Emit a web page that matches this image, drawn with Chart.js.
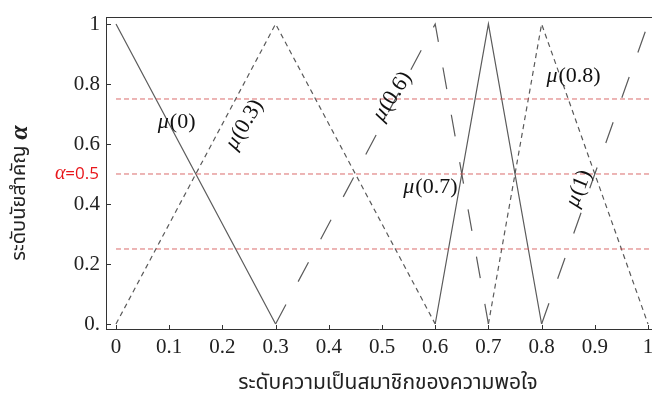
<!DOCTYPE html>
<html>
<head>
<meta charset="utf-8">
<script src="https://cdn.jsdelivr.net/npm/chart.js@4.4.1/dist/chart.umd.min.js"></script>
<style>
  html, body { margin: 0; padding: 0; background: #fff; }
</style>
</head>
<body>
<canvas id="myChart" width="652" height="399"></canvas>
<script>
// membership functions (x = satisfaction level, y = membership)
var mu0X  = [0, 0.3];            var mu0Y  = [1, 0];
var mu03X = [0, 0.3, 0.6];       var mu03Y = [0, 1, 0];
var mu06X = [0.3, 0.6, 0.7];     var mu06Y = [0, 1, 0];
var mu07X = [0.6, 0.7, 0.8];     var mu07Y = [0, 1, 0];
var mu08X = [0.7, 0.8, 1];       var mu08Y = [0, 1, 0];
var mu1X  = [0.8, 1];            var mu1Y  = [0, 1];

var alphaLevels = [0.25, 0.5, 0.75];

var xTicks = [0, 0.1, 0.2, 0.3, 0.4, 0.5, 0.6, 0.7, 0.8, 0.9, 1];
var xTickLabels = ['0', '0.1', '0.2', '0.3', '0.4', '0.5', '0.6', '0.7', '0.8', '0.9', '1'];
var yTicks = [0, 0.2, 0.4, 0.6, 0.8, 1];
var yTickLabels = ['0.', '0.2', '0.4', '0.6', '0.8', '1'];

var curveNames = ['(0)', '(0.3)', '(0.6)', '(0.7)', '(0.8)', '(1)'];
var curveLabelX = [0.113, 0.241, 0.519, 0.590, 0.859, 0.870];
var curveLabelY = [0.673, 0.663, 0.757, 0.457, 0.827, 0.450];
var curveLabelRot = [0, -59, -57, 0, 0, -68];

var xTitle = 'ระดับความเป็นสมาชิกของความพอใจ';
var yTitle = 'ระดับนัยสำคัญ';

var thaiFont = '"Noto Sans Thai", "Noto Sans Thai UI", "Loma", "Garuda", "Tlwg Typo", "Noto Sans", sans-serif';
var serif = "'Liberation Serif', 'Times New Roman', serif";

function pts(xs, ys) {
    return xs.map(function(x, i) { return {x: x, y: ys[i]}; });
}

var lineGray = '#5a5a5a';
var SHORT = [5, 4];
var LONG = [22, 26];

var datasets = [
    {label: 'μ(0)',   data: pts(mu0X, mu0Y),   borderDash: []},
    {label: 'μ(0.3)', data: pts(mu03X, mu03Y), borderDash: SHORT},
    {label: 'μ(0.6)', data: pts(mu06X, mu06Y), borderDash: LONG},
    {label: 'μ(0.7)', data: pts(mu07X, mu07Y), borderDash: []},
    {label: 'μ(0.8)', data: pts(mu08X, mu08Y), borderDash: SHORT},
    {label: 'μ(1)',   data: pts(mu1X, mu1Y),   borderDash: LONG}
].map(function(d) {
    d.borderColor = lineGray;
    d.borderWidth = 1.2;
    d.pointRadius = 0;
    d.tension = 0;
    d.fill = false;
    return d;
});

alphaLevels.forEach(function(a) {
    datasets.unshift({
        label: 'alpha ' + a,
        data: [{x: 0, y: a}, {x: 1.05, y: a}],
        borderColor: 'rgba(210, 80, 80, 0.85)',
        borderWidth: 1,
        borderDash: [5, 3],
        pointRadius: 0,
        fill: false
    });
});

// frame, inward ticks, labels, titles
var decorations = {
    id: 'decorations',
    afterDatasetsDraw: function(chart) {
        var c = chart.ctx, a = chart.chartArea;
        var xs = chart.scales.x, ys = chart.scales.y;
        c.save();
        c.strokeStyle = '#333';
        c.lineWidth = 1;
        c.beginPath();
        c.moveTo(a.left, a.top + 0.5);
        c.lineTo(a.right, a.top + 0.5);
        xTicks.forEach(function(v) {
            var px = Math.round(xs.getPixelForValue(v)) + 0.5;
            c.moveTo(px, a.bottom);
            c.lineTo(px, a.bottom - 4);
        });
        yTicks.forEach(function(v) {
            var py = Math.round(ys.getPixelForValue(v)) + 0.5;
            c.moveTo(a.left, py);
            c.lineTo(a.left + 5, py);
        });
        c.stroke();

        // curve labels: italic mu + regular argument
        c.fillStyle = '#111';
        c.textBaseline = 'middle';
        curveNames.forEach(function(name, i) {
            var px = xs.getPixelForValue(curveLabelX[i]);
            var py = ys.getPixelForValue(curveLabelY[i]);
            c.save();
            c.translate(px, py);
            c.rotate(curveLabelRot[i] * Math.PI / 180);
            c.font = 'italic 22px ' + serif;
            var w1 = c.measureText('μ').width;
            c.font = '22px ' + serif;
            var w2 = c.measureText(name).width;
            var x0 = -(w1 + w2) / 2;
            c.textAlign = 'left';
            c.font = 'italic 22px ' + serif;
            c.fillText('μ', x0, 0);
            c.font = '22px ' + serif;
            c.fillText(name, x0 + w1 + 1, 0);
            c.restore();
        });

        // alpha = 0.5 marker on the y axis
        var pyA = ys.getPixelForValue(0.5);
        c.fillStyle = '#e8161b';
        c.textAlign = 'right';
        c.font = '17px "Open Sans", "Liberation Sans", sans-serif';
        var wNum = c.measureText('=0.5').width;
        c.fillText('=0.5', a.left - 7, pyA);
        c.font = 'italic 20px ' + serif;
        c.fillText('α', a.left - 7 - wNum, pyA);

        // x title
        c.fillStyle = '#222';
        c.textAlign = 'center';
        c.font = '21px ' + thaiFont;
        c.fillText(xTitle, 388, 385);

        // y title (rotated)
        c.save();
        c.translate(21, 193);
        c.rotate(-Math.PI / 2);
        c.font = '20px ' + thaiFont;
        var wt = c.measureText(yTitle).width;
        c.font = 'bold italic 26px ' + serif;
        var wa = c.measureText('α').width;
        var total = wt + 6 + wa;
        c.textAlign = 'left';
        c.font = '20px ' + thaiFont;
        c.fillText(yTitle, -total / 2, 0);
        c.font = 'bold italic 26px ' + serif;
        c.fillText('α', -total / 2 + wt + 6, -1);
        c.restore();

        c.restore();
    }
};

Chart.defaults.font.family = serif;

var ctx = document.getElementById('myChart').getContext('2d');
var myChart = new Chart(ctx, {
    type: 'line',
    data: { datasets: datasets },
    options: {
        responsive: false,
        animation: false,
        layout: { padding: { top: 17, right: 0, left: 0, bottom: 0 } },
        plugins: { legend: { display: false }, tooltip: { enabled: false } },
        scales: {
            x: {
                type: 'linear',
                min: -0.0188,
                max: 1.0075,
                afterBuildTicks: function(scale) {
                    scale.ticks = xTicks.map(function(v) { return {value: v}; });
                },
                afterFit: function(scale) {
                    scale.height = 70;
                    scale.paddingRight = 0;
                    scale.paddingLeft = 0;
                },
                grid: { display: false, drawTicks: false },
                border: { display: true, color: '#333', width: 1 },
                ticks: {
                    autoSkip: false,
                    maxRotation: 0,
                    padding: 6,
                    color: '#222',
                    font: { family: serif, size: 21 },
                    callback: function(v, i) { return xTickLabels[i]; }
                }
            },
            y: {
                type: 'linear',
                min: -0.0167,
                max: 1.0233,
                afterBuildTicks: function(scale) {
                    scale.ticks = yTicks.map(function(v) { return {value: v}; });
                },
                afterFit: function(scale) {
                    scale.width = 106;
                    scale.paddingTop = 0;
                    scale.paddingBottom = 0;
                },
                grid: { display: false, drawTicks: false },
                border: { display: true, color: '#333', width: 1 },
                ticks: {
                    autoSkip: false,
                    padding: 6,
                    color: '#222',
                    font: { family: serif, size: 21 },
                    callback: function(v, i) { return yTickLabels[i]; }
                }
            }
        }
    },
    plugins: [decorations]
});
</script>
</body>
</html>
